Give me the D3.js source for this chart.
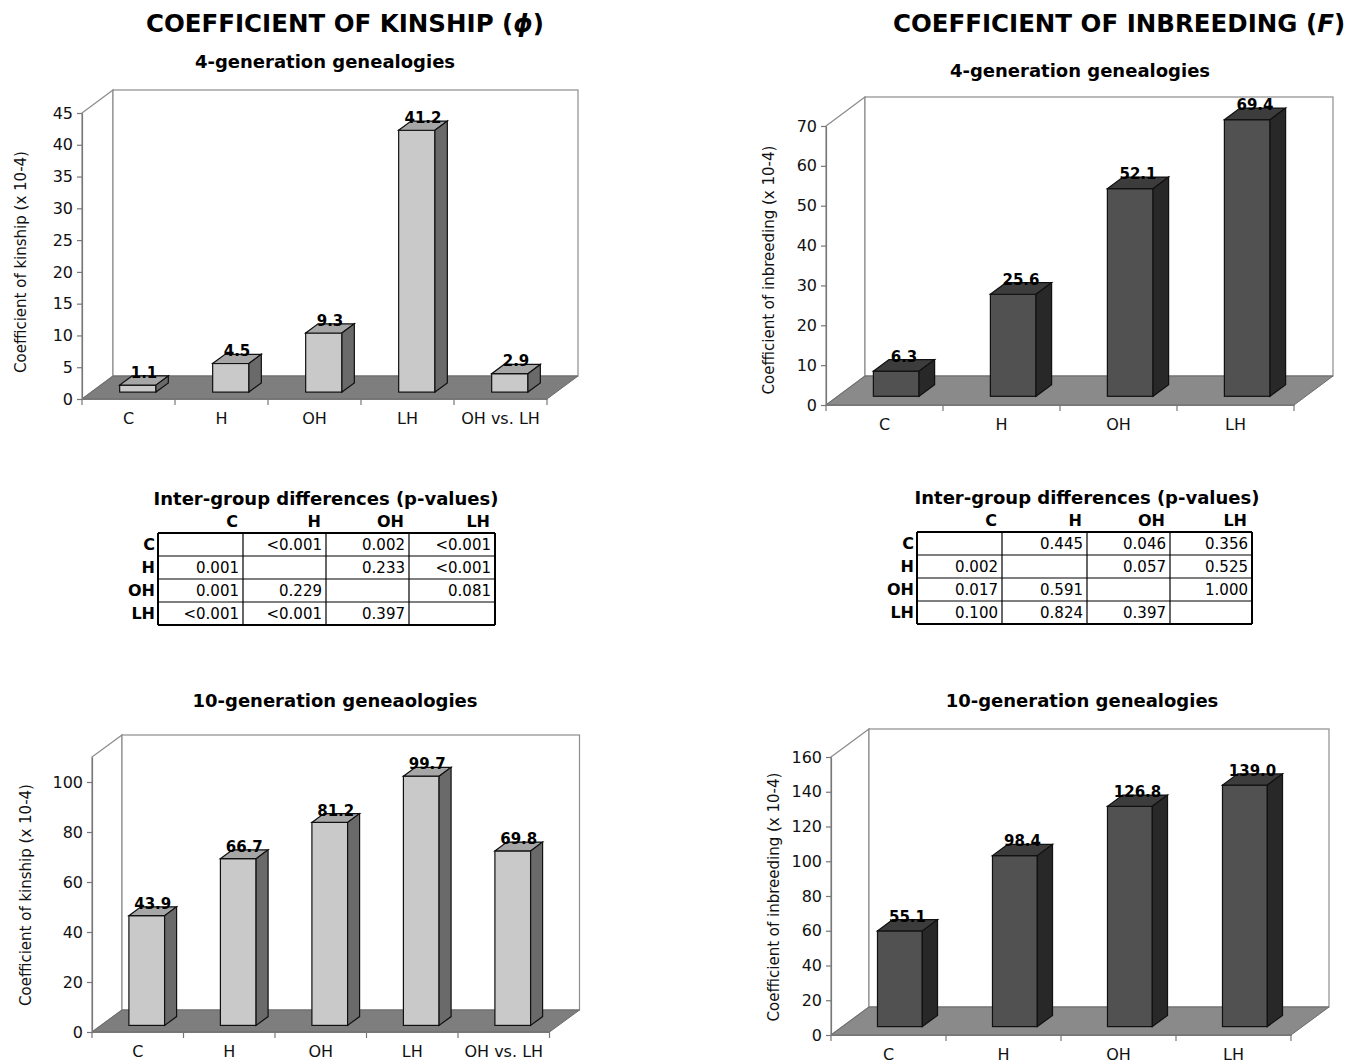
<!DOCTYPE html>
<html>
<head>
<meta charset="utf-8">
<script src="https://cdn.jsdelivr.net/npm/d3@7"></script>
<style>
  body { margin: 0; background: #fff; }
  text { font-family: "DejaVu Sans", Verdana, sans-serif; }
</style>
</head>
<body>
<svg id="fig" width="1363" height="1064"></svg>
<script>
// data
const groups5 = ["C", "H", "OH", "LH", "OH vs. LH"];
const groups4 = ["C", "H", "OH", "LH"];
const kinship4 = [1.1, 4.5, 9.3, 41.2, 2.9];
const inbreeding4 = [6.3, 25.6, 52.1, 69.4];
const kinship10 = [43.9, 66.7, 81.2, 99.7, 69.8];
const inbreeding10 = [55.1, 98.4, 126.8, 139.0];

const tableCols = ["C", "H", "OH", "LH"];
const kinshipP = [
    ["", "<0.001", "0.002", "<0.001"],
    ["0.001", "", "0.233", "<0.001"],
    ["0.001", "0.229", "", "0.081"],
    ["<0.001", "<0.001", "0.397", ""]
];
const inbreedingP = [
    ["", "0.445", "0.046", "0.356"],
    ["0.002", "", "0.057", "0.525"],
    ["0.017", "0.591", "", "1.000"],
    ["0.100", "0.824", "0.397", ""]
];

const svg = d3.select("#fig");
const fmt = d3.format(".1f");

const light = {front: "#c9c9c9", top: "#a6a6a6", side: "#6a6a6a", floor: "#7e7e7e"};
const dark = {front: "#515151", top: "#3c3c3c", side: "#282828", floor: "#8a8a8a"};

function bar3d(cfg, cats, vals, pal, ytitle) {
    var g = svg.append("g");
    var W = cfg.band * cats.length;
    var x = d3.scaleBand().domain(cats).range([cfg.left, cfg.left + W]);
    var y = d3.scaleLinear().domain([0, cfg.max]).range([cfg.y0, cfg.yTop]);
    var dx = cfg.dx, dy = cfg.dy;
    var x1 = cfg.left + W;

    // left wall + back wall
    g.append("path")
        .attr("d", "M" + cfg.left + "," + y(cfg.max) + "L" + (cfg.left + dx) + "," + (y(cfg.max) + dy) +
            "L" + (cfg.left + dx) + "," + (cfg.y0 + dy) + "L" + cfg.left + "," + cfg.y0 + "Z")
        .attr("fill", "#fff").attr("stroke", "#8c8c8c").attr("stroke-width", 1.2);
    g.append("rect")
        .attr("x", cfg.left + dx).attr("y", y(cfg.max) + dy)
        .attr("width", W).attr("height", cfg.y0 - y(cfg.max))
        .attr("fill", "#fff").attr("stroke", "#8c8c8c").attr("stroke-width", 1.2);

    // floor
    g.append("path")
        .attr("d", "M" + cfg.left + "," + cfg.y0 + "L" + x1 + "," + cfg.y0 + "L" + (x1 + dx) + "," + (cfg.y0 + dy) +
            "L" + (cfg.left + dx) + "," + (cfg.y0 + dy) + "Z")
        .attr("fill", pal.floor).attr("stroke", "#6a6a6a").attr("stroke-width", 1);

    // y axis
    var yAxis = d3.axisLeft(y)
        .tickValues(d3.range(0, cfg.max + 0.001, cfg.step))
        .tickSize(5).tickSizeOuter(0).tickPadding(4);
    var ya = g.append("g").attr("transform", "translate(" + cfg.left + ",0)").call(yAxis);
    ya.selectAll("text").attr("font-size", 16).attr("font-family", "DejaVu Sans").attr("fill", "#111");
    ya.selectAll("line, path").attr("stroke", "#777").attr("stroke-width", 1.2);

    // x axis, labels at band centres, ticks at band edges
    var xAxis = d3.axisBottom(x).tickSize(0).tickSizeOuter(0).tickPadding(14);
    var xa = g.append("g").attr("transform", "translate(0," + cfg.y0 + ")").call(xAxis);
    xa.selectAll("text").attr("font-size", 16).attr("font-family", "DejaVu Sans").attr("fill", "#111");
    xa.select("path").attr("stroke", "#777").attr("stroke-width", 1.2);
    g.selectAll("line.edge").data(cats.map(function (c) { return x(c); }).concat([x1]))
        .enter().append("line").attr("class", "edge")
        .attr("x1", function (d) { return d; }).attr("x2", function (d) { return d; })
        .attr("y1", cfg.y0).attr("y2", cfg.y0 + 6)
        .attr("stroke", "#777").attr("stroke-width", 1.2);

    // bars
    var bw = x.bandwidth() * 0.39;
    var fdx = 0.3 * dx, fdy = 0.3 * dy, ddx = 0.4 * dx, ddy = 0.4 * dy;
    var bars = g.selectAll("g.bar").data(vals).enter().append("g").attr("class", "bar");
    function fx(d, i) { return x(cats[i]) + x.bandwidth() / 2 - bw / 2 + fdx; }
    bars.append("rect")
        .attr("x", fx)
        .attr("y", function (d) { return y(d) + fdy; })
        .attr("width", bw)
        .attr("height", function (d) { return cfg.y0 - y(d); })
        .attr("fill", pal.front).attr("stroke", "#111").attr("stroke-width", 1.2);
    bars.append("path")
        .attr("d", function (d, i) {
            var a = fx(d, i), t = y(d) + fdy;
            return "M" + a + "," + t + "L" + (a + bw) + "," + t + "L" + (a + bw + ddx) + "," + (t + ddy) +
                "L" + (a + ddx) + "," + (t + ddy) + "Z";
        })
        .attr("fill", pal.top).attr("stroke", "#111").attr("stroke-width", 1.2);
    bars.append("path")
        .attr("d", function (d, i) {
            var a = fx(d, i) + bw, t = y(d) + fdy, b = cfg.y0 + fdy;
            return "M" + a + "," + t + "L" + (a + ddx) + "," + (t + ddy) + "L" + (a + ddx) + "," + (b + ddy) +
                "L" + a + "," + b + "Z";
        })
        .attr("fill", pal.side).attr("stroke", "#111").attr("stroke-width", 1.2);
    bars.append("text")
        .attr("x", function (d, i) { return fx(d, i) + bw / 2 + ddx / 2; })
        .attr("y", function (d) { return y(d) + fdy + ddy + 2; })
        .attr("text-anchor", "middle")
        .attr("font-size", 15).attr("font-weight", "bold").attr("fill", "#000")
        .text(function (d) { return fmt(d); });

    // axis title
    g.append("text")
        .attr("transform", "translate(" + cfg.titleX + "," + cfg.titleY + ") rotate(-90)")
        .attr("text-anchor", "middle").attr("font-size", 15).attr("fill", "#111")
        .text(ytitle);
}

function pTable(cx, top, colX, rows, vals) {
    var g = svg.append("g");
    var rowH = 23;
    g.append("text").attr("x", cx).attr("y", top - 28).attr("text-anchor", "middle")
        .attr("font-size", 18).attr("font-weight", "bold").text("Inter-group differences (p-values)");
    g.selectAll("text.col").data(tableCols).enter().append("text").attr("class", "col")
        .attr("x", function (d, i) { return colX[i + 1] - 5; }).attr("y", top - 6)
        .attr("text-anchor", "end").attr("font-size", 16).attr("font-weight", "bold").text(function (d) { return d; });
    g.selectAll("text.row").data(tableCols).enter().append("text").attr("class", "row")
        .attr("x", colX[0] - 3).attr("y", function (d, i) { return top + i * rowH + 17; })
        .attr("text-anchor", "end").attr("font-size", 16).attr("font-weight", "bold").text(function (d) { return d; });
    vals.forEach(function (r, i) {
        r.forEach(function (v, j) {
            g.append("text").attr("x", colX[j + 1] - 4).attr("y", top + i * rowH + 17)
                .attr("text-anchor", "end").attr("font-size", 15).text(v);
        });
    });
    // grid
    for (var i = 0; i <= rows; i++) {
        g.append("line").attr("x1", colX[0]).attr("x2", colX[colX.length - 1])
            .attr("y1", top + i * rowH).attr("y2", top + i * rowH)
            .attr("stroke", "#000").attr("stroke-width", (i == 0 || i == rows) ? 2 : 1.2);
    }
    colX.forEach(function (cxx, j) {
        g.append("line").attr("x1", cxx).attr("x2", cxx).attr("y1", top).attr("y2", top + rows * rowH)
            .attr("stroke", "#000").attr("stroke-width", (j == 0 || j == colX.length - 1) ? 2 : 1.2);
    });
}

// headings
var t1 = svg.append("text").attr("x", 345).attr("y", 32).attr("text-anchor", "middle")
    .attr("font-size", 24.5).attr("font-weight", "bold");
t1.append("tspan").text("COEFFICIENT OF KINSHIP (");
t1.append("tspan").attr("font-style", "italic").text("\u03d5");
t1.append("tspan").text(")");
var t2 = svg.append("text").attr("x", 1119).attr("y", 32).attr("text-anchor", "middle")
    .attr("font-size", 24.5).attr("font-weight", "bold");
t2.append("tspan").text("COEFFICIENT OF INBREEDING (");
t2.append("tspan").attr("font-style", "italic").text("F");
t2.append("tspan").text(")");

var subs = [
    {x: 325, y: 68, t: "4-generation genealogies"},
    {x: 1080, y: 77, t: "4-generation genealogies"},
    {x: 335, y: 707, t: "10-generation geneaologies"},
    {x: 1082, y: 707, t: "10-generation genealogies"}
];
svg.selectAll("text.sub").data(subs).enter().append("text").attr("class", "sub")
    .attr("x", function (d) { return d.x; }).attr("y", function (d) { return d.y; })
    .attr("text-anchor", "middle").attr("font-size", 18).attr("font-weight", "bold")
    .text(function (d) { return d.t; });

bar3d({left: 82, y0: 399, yTop: 113, max: 45, step: 5, band: 93, dx: 31, dy: -23, titleX: 26, titleY: 262},
    groups5, kinship4, light, "Coefficient of kinship (x 10-4)");
bar3d({left: 826, y0: 405, yTop: 126, max: 70, step: 10, band: 117, dx: 39, dy: -29, titleX: 774, titleY: 270},
    groups4, inbreeding4, dark, "Coefficient of inbreeding (x 10-4)");
bar3d({left: 92, y0: 1032, yTop: 757, max: 110, step: 20, band: 91.5, dx: 30, dy: -22, titleX: 31, titleY: 895},
    groups5, kinship10, light, "Coefficient of kinship (x 10-4)");
bar3d({left: 831, y0: 1035, yTop: 757, max: 160, step: 20, band: 115, dx: 38, dy: -28, titleX: 779, titleY: 897},
    groups4, inbreeding10, dark, "Coefficient of inbreeding (x 10-4)");

pTable(326, 533, [158, 243, 326, 409, 495], 4, kinshipP);
pTable(1087, 532, [917, 1002, 1087, 1170, 1252], 4, inbreedingP);
</script>
</body>
</html>
